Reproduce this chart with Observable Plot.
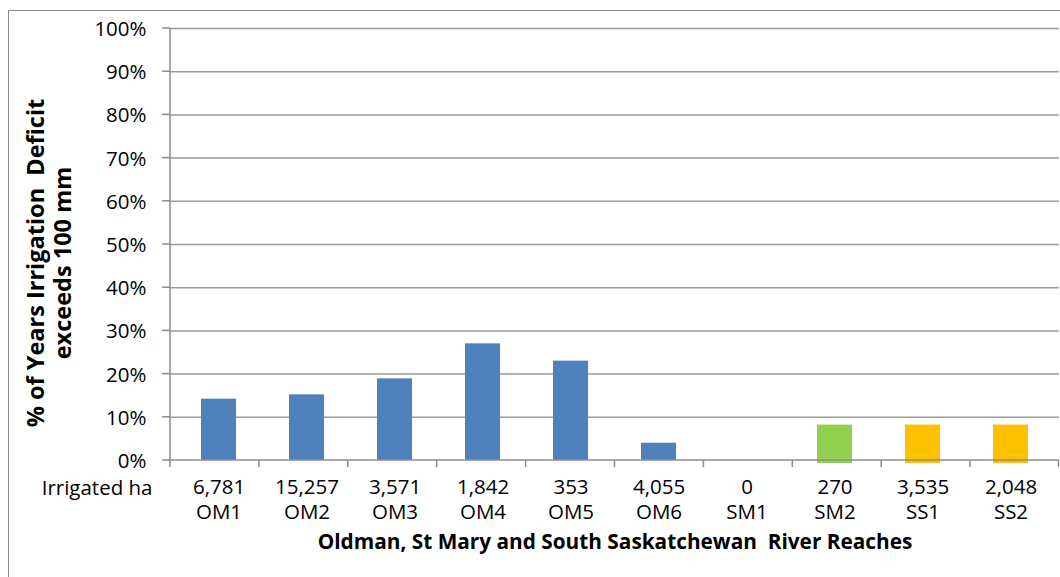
<!DOCTYPE html>
<html><head><meta charset="utf-8">
<script src="https://cdn.jsdelivr.net/npm/d3@7"></script>
<script src="https://cdn.jsdelivr.net/npm/@observablehq/plot@0.6"></script>
<style>
body{margin:0;background:#fff;}
#wrap{position:relative;width:1060px;height:577px;overflow:hidden;}
#frame{position:absolute;left:8px;top:10px;width:1100px;height:600px;border-left:1px solid #8a8a8a;border-top:1px solid #8a8a8a;pointer-events:none;}
</style></head><body><div id="wrap"><div id="frame"></div></div>
<script>
const codes = ["OM1","OM2","OM3","OM4","OM5","OM6","SM1","SM2","SS1","SS2"];
const irrigatedHa = ["6,781","15,257","3,571","1,842","353","4,055","0","270","3,535","2,048"];
const pctYears = [14.2, 15.2, 18.9, 27.0, 23.0, 4.0, 0, 8.2, 8.2, 8.2];
const reachGroup = ["Oldman","Oldman","Oldman","Oldman","Oldman","Oldman","St Mary","St Mary","South Saskatchewan","South Saskatchewan"];
const groups = ["Oldman","St Mary","South Saskatchewan"];
const groupColors = ["#4F81BD","#92D050","#FFC000"];
const yTicks = [0,10,20,30,40,50,60,70,80,90,100];
const yTitle = ["% of Years Irrigation  Deficit","exceeds 100 mm"];
const xTitle = "Oldman, St Mary and South Saskatchewan  River Reaches";
const rowLabel = "Irrigated ha";

const rows = codes.map((c,i)=>({code:c, ha:irrigatedHa[i], pct:pctYears[i], group:reachGroup[i]}));
const font = "'Open Sans', sans-serif";
const axisColor = "#8c8c8c";

function axesMark(index, scales, values, dimensions) {
  const g = d3.create("svg:g");
  const {marginLeft, marginTop, marginBottom, marginRight, width, height} = dimensions;
  const y = scales.y;
  const x0 = marginLeft, x1 = width - marginRight, yb = height - marginBottom;
  const step = (x1 - x0) / codes.length;
  g.append("line").attr("x1", x0).attr("x2", x0).attr("y1", y(100)).attr("y2", yb)
    .attr("stroke", axisColor).attr("stroke-width", 1.5);
  for (const t of yTicks) {
    g.append("line").attr("x1", x0 - 8).attr("x2", x0).attr("y1", y(t)).attr("y2", y(t))
      .attr("stroke", axisColor).attr("stroke-width", 1.5);
  }
  for (let i = 0; i <= codes.length; i++) {
    const xb = Math.min(x0 + i * step, x1 - 0.5);
    g.append("line").attr("x1", xb).attr("x2", xb).attr("y1", yb).attr("y2", yb + 7)
      .attr("stroke", axisColor).attr("stroke-width", 1.5);
  }
  g.append("line").attr("x1", x0).attr("x2", x1).attr("y1", yb).attr("y2", yb)
    .attr("stroke", axisColor).attr("stroke-width", 1.5);
  // rotated y-axis title
  const t = g.append("text")
    .attr("transform", `translate(${marginLeft - 121},${(marginTop + yb) / 2 + 19}) rotate(-90)`)
    .attr("text-anchor", "middle").attr("font-weight", "bold").attr("fill", "#000")
    .attr("font-size", 23.5);
  yTitle.forEach((line, i) => {
    t.append("tspan").attr("x", 0).attr("y", (i - (yTitle.length - 1) / 2) * 27).attr("dy", "0.35em").text(line);
  });
  return g.node();
}

const plot = Plot.plot({
  width: 1060, height: 577,
  marginLeft: 170, marginRight: 1, marginTop: 28, marginBottom: 117,
  style: {fontFamily: font, fontSize: "20px", color: "#000", background: "transparent", overflow: "visible"},
  x: {domain: codes, paddingInner: 0.6, paddingOuter: 0.3, axis: null},
  y: {domain: [0, 100], axis: null},
  color: {domain: groups, range: groupColors},
  marks: [
    Plot.ruleY(yTicks.filter(d => d > 0), {y: d => d, stroke: "#9a9a9a", strokeWidth: 1.5}),
    Plot.barY(rows, {x: "code", y: "pct", fill: "group", filter: d => d.group === "Oldman"}),
    Plot.barY(rows, {x: "code", y: "pct", fill: "group", insetBottom: -3, filter: d => d.group !== "Oldman" && d.pct > 0}),
    axesMark,
    Plot.text(yTicks, {y: d => d, text: d => d + "%", frameAnchor: "left", textAnchor: "end", dx: -24, dy: 1, fontSize: 20.5, fill: "#000"}),
    Plot.text(rows, {x: "code", text: d => d.ha + "\n" + d.code, frameAnchor: "bottom", lineAnchor: "middle", lineHeight: 1.244, fontSize: 20.5, dy: 38, fill: "#000"}),
    Plot.text([rowLabel], {text: d => d, frameAnchor: "bottom-left", textAnchor: "end", dx: -18, dy: 34, fontSize: 20.5, fill: "#000"}),
    Plot.text([xTitle], {text: d => d, frameAnchor: "bottom", dy: 88, fontWeight: "bold", fontSize: 20.8, fill: "#000"})
  ]
});
document.getElementById("wrap").insertBefore(plot, document.getElementById("frame"));
</script></body></html>
